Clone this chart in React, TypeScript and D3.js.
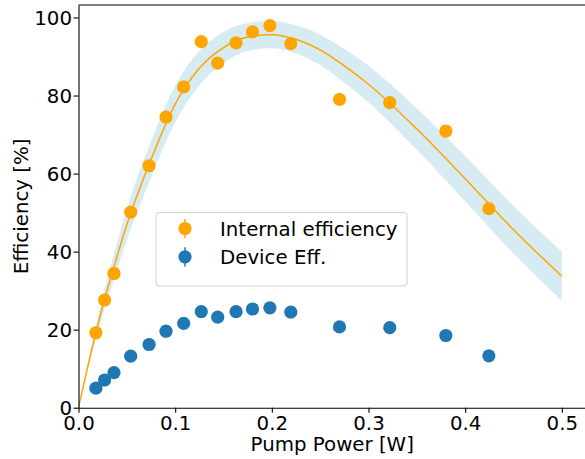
import React, { useEffect, useRef } from 'react';
import * as d3 from 'd3';

// measured points
const pumpPower = [0.018, 0.027, 0.0367, 0.054, 0.073, 0.0905, 0.1088, 0.127, 0.144, 0.163, 0.18, 0.198, 0.2196, 0.27, 0.322, 0.38, 0.4245];
const internalEff = [19.2, 27.6, 34.4, 50.1, 62.0, 74.5, 82.2, 93.8, 88.3, 93.5, 96.3, 97.9, 93.3, 79.0, 78.2, 70.9, 51.0];
const deviceEff = [5.0, 7.1, 9.0, 13.2, 16.2, 19.6, 21.6, 24.6, 23.2, 24.6, 25.3, 25.6, 24.5, 20.7, 20.5, 18.5, 13.3];

// fit curve, with its band half-width
const fitX = [0, 0.0125, 0.025, 0.0375, 0.05, 0.075, 0.1, 0.125, 0.15, 0.175, 0.2, 0.225, 0.25, 0.275, 0.3, 0.35, 0.4, 0.45, 0.5];
const fitY = [0, 13.6, 26.0, 36.8, 46.9, 63.6, 77.8, 87.0, 92.3, 95.0, 95.6, 94.4, 91.7, 87.6, 82.9, 71.4, 58.7, 45.6, 33.7];
const fitBand = [0, 1.2, 2.4, 3.3, 4.0, 4.6, 4.7, 4.4, 4.0, 3.6, 3.5, 3.6, 3.9, 4.3, 4.7, 5.3, 5.8, 6.1, 6.3];

const xTicks = [0, 0.1, 0.2, 0.3, 0.4, 0.5];
const yTicks = [0, 20, 40, 60, 80, 100];
const seriesNames = ['Internal efficiency', 'Device Eff.'];
const seriesColors = ['#ffa500', '#1f77b4'];

function App() {
  const ref = useRef<SVGSVGElement>(null);

  useEffect(() => {
    drawChart();
  });

  function drawChart() {
    const width = 585;
    const height = 459;
    const margin = { top: 5, right: -1, bottom: 51.3, left: 78.5 };
    const font = 'DejaVu Sans, sans-serif';
    const fs = 19.8;

    const svg = d3.select(ref.current);
    svg.selectAll('*').remove();

    const xScale = d3.scaleLinear().domain([0, 0.525]).range([margin.left, width - margin.right]);
    const yScale = d3.scaleLinear().domain([0, 103.2]).range([height - margin.bottom, margin.top]);

    svg.append('clipPath').attr('id', 'plot-clip')
      .append('rect')
      .attr('x', margin.left).attr('y', margin.top)
      .attr('width', width - margin.right - margin.left)
      .attr('height', height - margin.bottom - margin.top);

    const plot = svg.append('g').attr('clip-path', 'url(#plot-clip)');

    // confidence band
    const bandData = fitX.map((x, i) => ({ x, lo: fitY[i] - fitBand[i], hi: fitY[i] + fitBand[i] }));
    plot.append('path')
      .datum(bandData)
      .attr('d', d3.area<any>()
        .x(d => xScale(d.x))
        .y0(d => yScale(d.lo))
        .y1(d => yScale(d.hi))
        .curve(d3.curveMonotoneX))
      .attr('fill', '#add8e6')
      .attr('fill-opacity', 0.5);

    // fit line
    plot.append('path')
      .datum(fitX.map((x, i) => ({ x, y: fitY[i] })))
      .attr('d', d3.line<any>()
        .x(d => xScale(d.x))
        .y(d => yScale(d.y))
        .curve(d3.curveMonotoneX))
      .attr('fill', 'none')
      .attr('stroke', seriesColors[0])
      .attr('stroke-width', 1.5);

    // points
    [internalEff, deviceEff].forEach((vals, s) => {
      plot.append('g')
        .selectAll('circle')
        .data(vals)
        .enter()
        .append('circle')
        .attr('cx', (d, i) => xScale(pumpPower[i]))
        .attr('cy', d => yScale(d))
        .attr('r', 6.6)
        .attr('fill', seriesColors[s]);
    });

    // axes
    const xAxis = d3.axisBottom(xScale).tickValues(xTicks).tickFormat(d3.format('.1f')).tickSizeInner(5).tickSizeOuter(0).tickPadding(3);
    const yAxis = d3.axisLeft(yScale).tickValues(yTicks).tickFormat(d3.format('d')).tickSizeInner(5).tickSizeOuter(0).tickPadding(1.5);

    const gx = svg.append('g').attr('transform', `translate(0, ${height - margin.bottom})`).call(xAxis);
    const gy = svg.append('g').attr('transform', `translate(${margin.left}, 0)`).call(yAxis);
    [gx, gy].forEach(g => {
      g.selectAll('text').style('font-family', font).style('font-size', fs + 'px').attr('fill', '#000');
      g.selectAll('line').attr('stroke', '#000').attr('stroke-width', 1.1);
      g.select('.domain').attr('stroke', '#000').attr('stroke-width', 1.1);
    });
    gy.selectAll('text').attr('dy', '0.35em');
    gx.selectAll('text').attr('dy', '0.71em');

    // top spine
    svg.append('line')
      .attr('x1', margin.left).attr('x2', width)
      .attr('y1', margin.top).attr('y2', margin.top)
      .attr('stroke', '#000').attr('stroke-width', 1.1);

    // axis labels
    svg.append('text')
      .attr('x', (margin.left + 586) / 2)
      .attr('y', 451)
      .style('text-anchor', 'middle')
      .style('font-family', font)
      .style('font-size', fs + 'px')
      .text('Pump Power [W]');

    svg.append('text')
      .attr('transform', `translate(28, ${(margin.top + height - margin.bottom) / 2}) rotate(-90)`)
      .style('text-anchor', 'middle')
      .style('font-family', font)
      .style('font-size', fs + 'px')
      .text('Efficiency [%]');

    // legend
    const legend = svg.append('g');
    legend.append('rect')
      .attr('x', 156).attr('y', 212.5)
      .attr('width', 251).attr('height', 73.5)
      .attr('rx', 3)
      .attr('fill', 'white').attr('fill-opacity', 0.8)
      .attr('stroke', '#d0d0d0').attr('stroke-width', 1);

    seriesNames.forEach((name, i) => {
      const y = 228.5 + i * 28.3;
      legend.append('line')
        .attr('x1', 185).attr('x2', 185)
        .attr('y1', y - 9.6).attr('y2', y + 9.6)
        .attr('stroke', seriesColors[i]).attr('stroke-width', 1.5);
      legend.append('circle')
        .attr('cx', 185).attr('cy', y).attr('r', 6.6)
        .attr('fill', seriesColors[i]);
      legend.append('text')
        .attr('x', 220).attr('y', y)
        .attr('dy', '0.36em')
        .style('font-family', font)
        .style('font-size', fs + 'px')
        .text(name);
    });
  }

  return (
    <svg
      ref={ref}
      width={585}
      height={459}
      style={{ position: 'absolute', left: 0, top: 0, background: 'white', display: 'block' }}
    />
  );
}

export default App;
